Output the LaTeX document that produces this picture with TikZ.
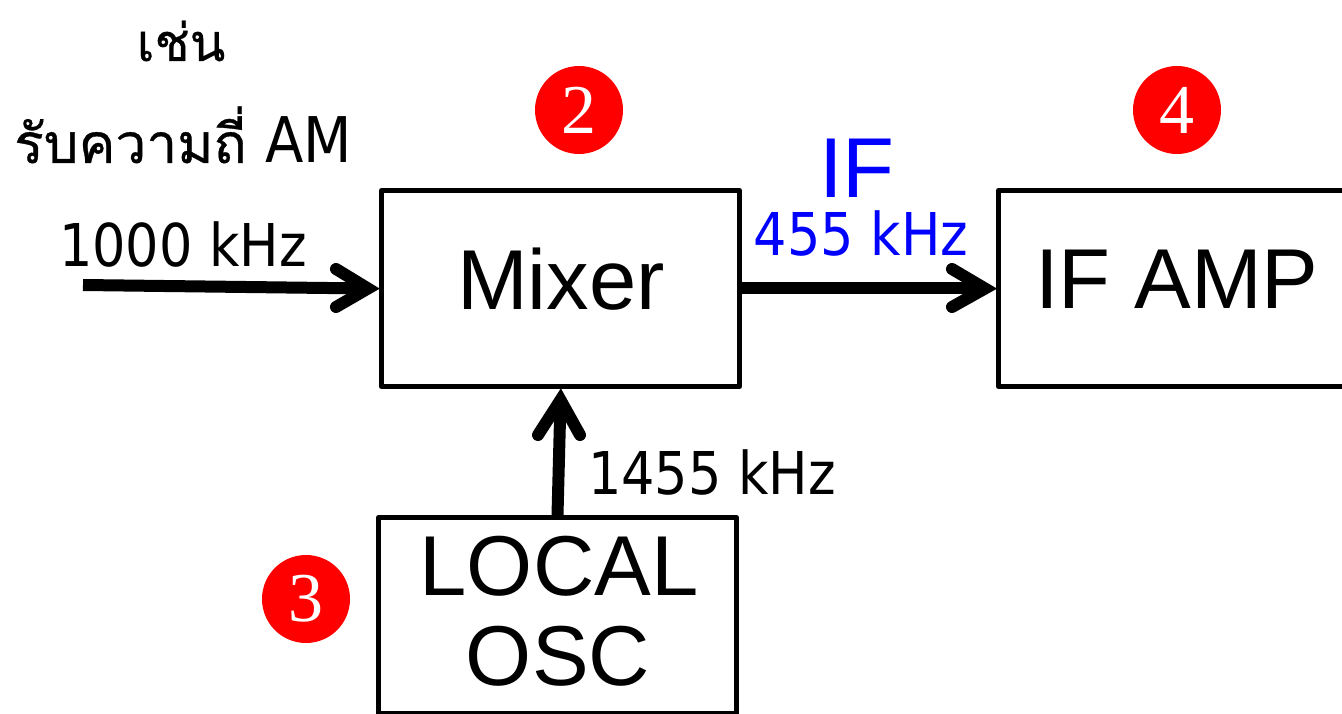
\documentclass[tikz,border=0pt]{standalone}
\usepackage{fontspec}
\usetikzlibrary{calc}
\setmainfont{Liberation Sans}
\newfontfamily\thaifont[Script=Thai,FakeBold=0.6]{Loma}
\newfontfamily\lab[FakeStretch=0.89]{DejaVu Sans}
\newfontfamily\numf{Liberation Serif}
\begin{document}
\begin{tikzpicture}[x=1pt,y=-1pt,
 blockbox/.style={draw=black,line width=5pt,line join=round,inner sep=0pt,anchor=north west},
 blocktext/.style={font=\fontsize{85}{85}\selectfont,inner sep=0,anchor=center},
 conn/.style={line width=12pt,draw=black},
 head/.style={line width=12pt,draw=black,line cap=round,line join=miter},
 badge/.style={circle,fill=red,minimum size=88pt,inner sep=0,text=white,font=\numf\fontsize{70}{70}\selectfont},
 freq/.style={font=\lab\fontsize{59}{59}\selectfont,inner sep=0,anchor=center}]
\useasboundingbox (0,0) rectangle (1342,714);
\node[blockbox,minimum width=358pt,minimum height=196pt] (mix) at (379,188) {};
\node[blockbox,minimum width=358pt,minimum height=196pt] (amp) at (996,188) {};
\node[blockbox,minimum width=358pt,minimum height=196pt] (osc) at (376,515) {};
\node[blocktext] (mixt) at (561,279) {Mixer};
\node[blocktext] (ampt) at (1177,279) {IF AMP};
\node[blocktext] (osct) at (559,566) {LOCAL};
\node[blocktext] (osct2) at (558,656) {OSC};
\node[badge] (b2) at (579,110) {2};
\node[badge] (b4) at (1177,110) {4};
\node[badge] (b3) at (306,599) {3};
\node[inner sep=0,font=\thaifont\fontsize{52}{52}\selectfont] (t1) at (181,41) {เช่น};
\node[inner sep=0,anchor=base west,font=\thaifont\fontsize{55}{55}\selectfont] (t2) at (14,163) {รับความถี่\ {\lab\fontsize{63}{63}\selectfont AM}};
\node[freq] (f1) at (183,245) {1000 kHz};
\node[freq] (f2) at (712,473) {1455 kHz};
\node[freq,text=blue] (f3) at (861,234) {455 kHz};
\node[font=\fontsize{85}{85}\selectfont,text=blue,inner sep=0] (ift) at (857,168) {IF};
\coordinate (in) at (83,285);
\draw[conn] (in) -- ($(mix.west)+(-11,0)$);
\draw[head] (336,269) -- ($(mix.west)+(-11,0)$) -- (336,307);
\draw[conn] (mix.east) -- ($(amp.west)+(-11,0)$);
\draw[head] (952,269) -- ($(amp.west)+(-11,0)$) -- (952,307);
\draw[conn] (osc.north) -- ($(mix.south)+(0,11)$);
\draw[head] (538,435) -- ($(mix.south)+(0,11)$) -- (580,435);
\end{tikzpicture}
\end{document}
